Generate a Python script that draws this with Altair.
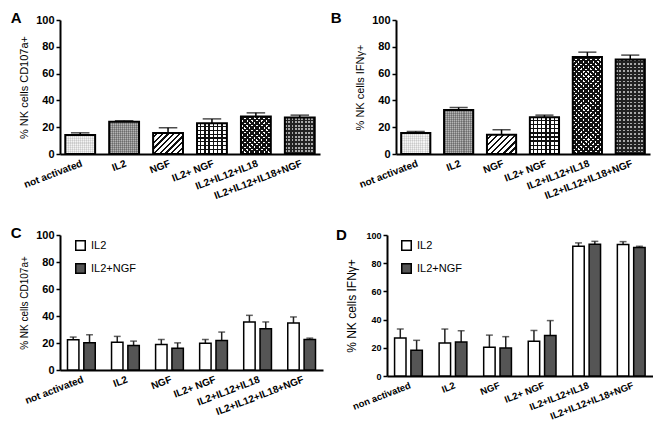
import math
import altair as alt
import pandas as pd

FONT = "Liberation Sans"

# ---------------- data ----------------
categories = ["not activated", "IL2", "NGF", "IL2+ NGF", "IL2+IL12+IL18", "IL2+IL12+IL18+NGF"]
categories_d = ["non activated", "IL2", "NGF", "IL2+ NGF", "IL2+IL12+IL18", "IL2+IL12+IL18+NGF"]

a_mean = [14.1, 24.0, 15.6, 23.0, 28.0, 27.2]
a_upper = [15.8, 24.8, 19.6, 26.2, 30.7, 29.0]

b_mean = [15.6, 32.9, 14.4, 27.5, 72.3, 70.5]
b_upper = [16.8, 34.7, 18.1, 29.0, 76.0, 73.8]

series = ["IL2", "IL2+NGF"]
c_il2 = [22.4, 20.6, 18.9, 19.9, 35.6, 34.8]
c_il2_upper = [24.4, 24.9, 22.6, 22.6, 40.5, 39.3]
c_ngf = [20.1, 18.2, 16.2, 21.9, 30.6, 22.6]
c_ngf_upper = [26.1, 21.4, 20.1, 28.1, 35.6, 23.6]

d_il2 = [26.9, 23.4, 20.4, 24.6, 92.0, 93.2]
d_il2_upper = [33.3, 33.3, 29.0, 32.3, 94.4, 95.3]
d_ngf = [18.3, 24.1, 19.9, 28.8, 93.4, 91.1]
d_ngf_upper = [25.3, 32.1, 27.9, 39.3, 95.5, 92.0]

# fill style of each category in panels A and B
patterns = ["dots", "fine", "diag", "grid", "diamond", "dgrid"]

Y_TICKS = [0, 20, 40, 60, 80, 100]
PI, PO = 0.32, 0.12
CLEAR = "rgba(0,0,0,0)"


# ---------------- pattern helpers (gradient stripes) ----------------
def stripe_stops(n, frac, bg, fg):
    n = max(1, int(round(n)))
    stops = []
    for i in range(n):
        a = i / n
        b = (i + 1 - frac) / n
        c = (i + 1) / n
        stops += [(a, bg), (b, bg), (b, fg), (c, fg)]
    return [{"offset": round(o, 5), "color": col} for o, col in stops]


def grad(x1, y1, x2, y2, stops):
    return {"gradient": "linear", "x1": x1, "y1": y1, "x2": x2, "y2": y2, "stops": stops}


def vertical(w, h, p, frac, bg, fg):
    return grad(0, 0, 1, 0, stripe_stops(w / p, frac, bg, fg))


def horizontal(w, h, p, frac, bg, fg):
    return grad(0, 0, 0, 1, stripe_stops(h / p, frac, bg, fg))


def diag_up(w, h, p, frac, bg, fg):  # "/" lines
    c = (w + h) / (w * w + h * h)
    return grad(0, 0, c * w, c * h, stripe_stops((w + h) / (p * math.sqrt(2)), frac, bg, fg))


def diag_down(w, h, p, frac, bg, fg):  # "\" lines
    c = (w + h) / (w * w + h * h)
    return grad(0, 1, c * w, 1 - c * h, stripe_stops((w + h) / (p * math.sqrt(2)), frac, bg, fg))


def pattern_fills(kind, w, h):
    h = max(h, 1.0)
    if kind == "dots":
        return ["#f4f4f4", vertical(w, h, 2.0, 0.5, CLEAR, "rgba(0,0,0,0.10)"),
                horizontal(w, h, 2.0, 0.5, CLEAR, "rgba(0,0,0,0.08)")]
    if kind == "fine":
        return ["#b4b4b4", vertical(w, h, 2.0, 0.5, CLEAR, "rgba(0,0,0,0.25)"),
                horizontal(w, h, 2.0, 0.5, CLEAR, "rgba(0,0,0,0.2)")]
    if kind == "diag":
        return [diag_up(w, h, 4.2, 0.38, "white", "#111111")]
    if kind == "grid":
        return [vertical(w, h, 4.0, 0.32, "white", "#111111"),
                horizontal(w, h, 4.0, 0.32, CLEAR, "#111111")]
    if kind == "diamond":
        return [diag_up(w, h, 3.4, 0.55, "white", "#111111"),
                diag_down(w, h, 3.4, 0.55, CLEAR, "#111111")]
    if kind == "dgrid":
        return ["#a8a8a8", vertical(w, h, 3.5, 0.45, CLEAR, "#222222"),
                horizontal(w, h, 3.5, 0.45, CLEAR, "#222222")]
    return ["#cccccc"]


def band_width(W, n, pi, po):
    step = W / (n - pi + 2 * po)
    return step * (1 - pi)


def letter(t, dx, dy):
    return alt.TitleParams(text=t, anchor="start", frame="bounds", fontSize=15,
                           fontWeight="bold", font=FONT, color="black",
                           offset=0, dx=dx, dy=dy)


def make_y(st):
    def yenc(field):
        return alt.Y(field, type="quantitative",
                     scale=alt.Scale(domain=[0, 100], nice=False, zero=True),
                     axis=alt.Axis(title=st["title"], values=Y_TICKS,
                                   titlePadding=st["tpad"], titleFontSize=st["tsize"],
                                   titleFontWeight="normal",
                                   labelFontSize=st["ylab"]))
    return yenc


def xaxis(size):
    return alt.Axis(title=None, labelAngle=-21, ticks=False, labelPadding=4,
                    labelFontSize=size)


# ---------------- single-bar panels (A, B) ----------------
def pattern_panel(st, cats, mean, upper, W, H):
    df = pd.DataFrame({"cat": cats, "mean": mean, "upper": upper})
    bw = band_width(W, len(cats), PI, PO)
    yenc = make_y(st)
    x = alt.X("cat:N", sort=cats,
              scale=alt.Scale(domain=cats, paddingInner=PI, paddingOuter=PO),
              axis=xaxis(st["xlab"]))
    base = alt.Chart(df).encode(x=x)
    layers = []
    for c, m, kind in zip(cats, mean, patterns):
        hpx = m / 100.0 * H
        for f in pattern_fills(kind, bw, hpx):
            layers.append(
                base.mark_bar(fill=f, strokeWidth=0)
                .encode(y=yenc("mean"))
                .transform_filter(alt.datum.cat == c)
            )
    rule = base.mark_rule(color="black", strokeWidth=1.5).encode(y=yenc("mean"), y2="upper:Q")
    cap = base.mark_tick(color="black", thickness=1.5, size=bw * 0.62).encode(y=yenc("upper"))
    outline = base.mark_bar(fillOpacity=0, stroke="black", strokeWidth=2).encode(y=yenc("mean"))
    return alt.layer(*layers, rule, cap, outline).properties(
        width=W, height=H, title=letter(st["letter"], st["dx"], 12))


# ---------------- grouped panels (C, D) ----------------
def grouped_panel(st, cats, il2, il2u, ngf, ngfu, W, H, lx, ly):
    n = len(cats)
    df = pd.DataFrame({
        "cat": cats + cats,
        "series": [series[0]] * n + [series[1]] * n,
        "mean": il2 + ngf,
        "upper": il2u + ngfu,
    })
    gpi, gpo, spi = 0.37, 0.17, 0.3
    gbw = band_width(W, n, gpi, gpo)
    sbw = gbw / (2 - spi) * (1 - spi)
    yenc = make_y(st)
    x = alt.X("cat:N", sort=cats,
              scale=alt.Scale(domain=cats, paddingInner=gpi, paddingOuter=gpo),
              axis=xaxis(st["xlab"]))
    xo = alt.XOffset("series:N", sort=series, scale=alt.Scale(domain=series, paddingInner=spi))
    color = alt.Color("series:N", sort=series,
                      scale=alt.Scale(domain=series, range=["white", "#555555"]),
                      legend=alt.Legend(title=None, orient="none", legendX=lx, legendY=ly,
                                        symbolType="square", symbolSize=90,
                                        symbolStrokeColor="black", symbolStrokeWidth=1.5,
                                        labelFont=FONT, labelFontSize=11,
                                        labelFontWeight="normal", labelColor="black",
                                        rowPadding=6, labelOffset=5))
    base = alt.Chart(df).encode(x=x, xOffset=xo)
    rule = base.mark_rule(color="#222222", strokeWidth=1.5).encode(y=yenc("mean"), y2="upper:Q")
    cap = base.mark_tick(color="#222222", thickness=1.5, size=sbw * 0.6).encode(y=yenc("upper"))
    bars = base.mark_bar(stroke="black", strokeWidth=1.5).encode(y=yenc("mean"), color=color)
    return alt.layer(rule, cap, bars).properties(
        width=W, height=H, title=letter(st["letter"], st["dx"], 12))


stA = dict(letter="A", title="% NK cells CD107a+", tpad=6, tsize=11, ylab=11, xlab=10, dx=-8)
stB = dict(letter="B", title="% NK cells IFNγ+", tpad=6, tsize=11, ylab=11, xlab=10, dx=-24)
stC = dict(letter="C", title="% NK cells CD107a+", tpad=6, tsize=10, ylab=11, xlab=10, dx=-9)
stD = dict(letter="D", title="% NK cells IFNγ+", tpad=7, tsize=12, ylab=9, xlab=9.5, dx=-10)

pA = pattern_panel(stA, categories, a_mean, a_upper, 260, 134)
pB = pattern_panel(stB, categories, b_mean, b_upper, 254, 134)
pC = grouped_panel(stC, categories, c_il2, c_il2_upper, c_ngf, c_ngf_upper, 263, 135, 15, 5)
pD = grouped_panel(stD, categories_d, d_il2, d_il2_upper, d_ngf, d_ngf_upper, 266, 141, 14, 5)

row1 = alt.hconcat(pA, pB, spacing=10)
row2 = alt.hconcat(pC, pD, spacing=12).resolve_scale(color="independent").resolve_legend(
    color="independent")

chart = alt.vconcat(row1, row2, spacing=25).resolve_scale(color="independent").resolve_legend(
    color="independent").properties(
    padding={"left": 2, "top": 3, "right": 0, "bottom": 0}
).configure_view(stroke=None).configure_axis(
    domainColor="black", domainWidth=2, tickColor="black", tickWidth=1.5, tickSize=4,
    labelFont=FONT, labelFontWeight="bold", labelFontSize=11, labelColor="black",
    titleFont=FONT, titleFontWeight="normal", titleFontSize=11, titleColor="black",
    grid=False,
)

chart.save("out.html", embed_options={"renderer": "svg", "actions": False})
